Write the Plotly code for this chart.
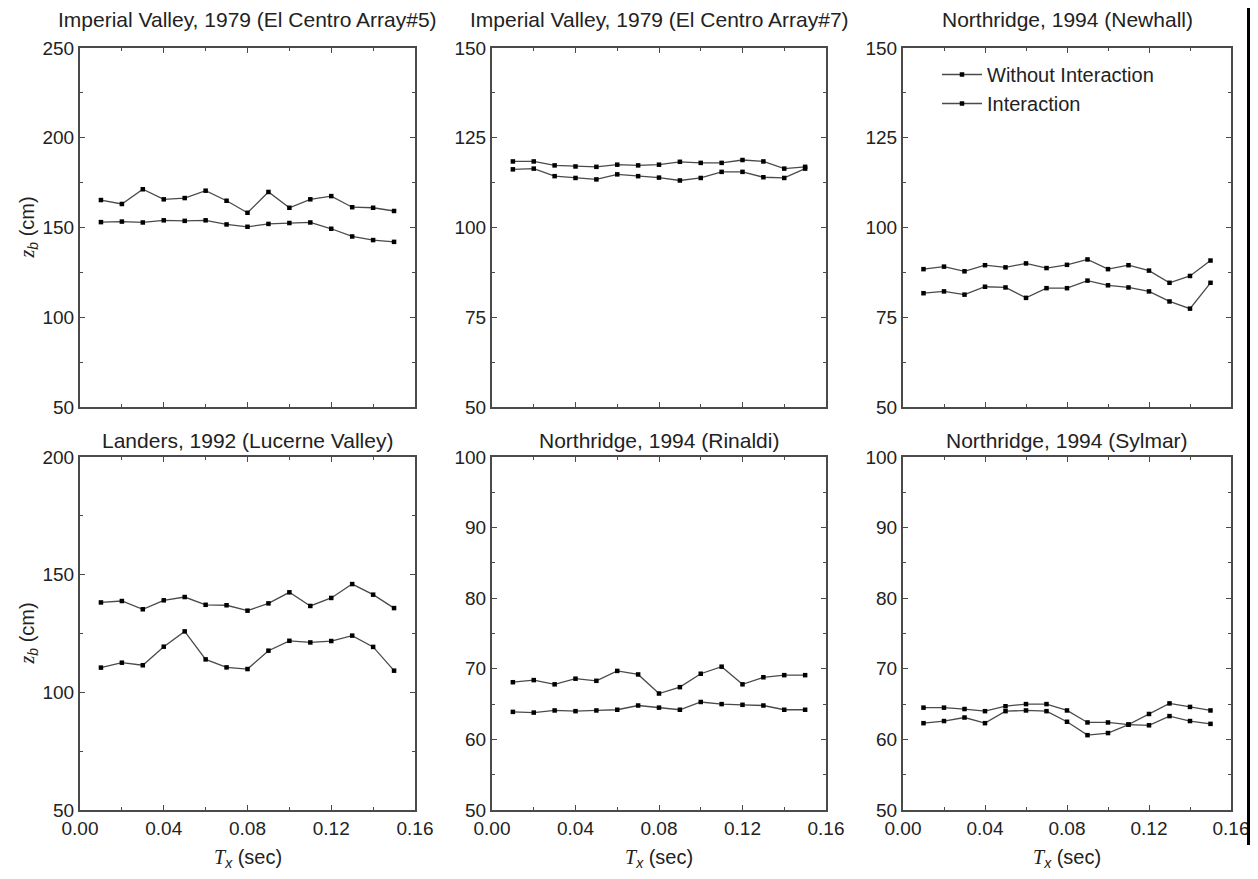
import plotly.graph_objects as go

# ---------------- data ----------------
T = [0.01, 0.02, 0.03, 0.04, 0.05, 0.06, 0.07, 0.08, 0.09, 0.10, 0.11, 0.12, 0.13, 0.14, 0.15]

titles = [
    "Imperial Valley, 1979 (El Centro Array#5)",
    "Imperial Valley, 1979 (El Centro Array#7)",
    "Northridge, 1994 (Newhall)",
    "Landers, 1992 (Lucerne Valley)",
    "Northridge, 1994 (Rinaldi)",
    "Northridge, 1994 (Sylmar)",
]

without_1 = [165.3, 163.1, 171.3, 165.7, 166.4, 170.5, 164.9, 158.2, 169.8, 161.0, 165.7, 167.5, 161.3, 161.0, 159.2]
with_1 = [153.0, 153.3, 152.8, 154.0, 153.7, 154.0, 151.7, 150.4, 152.0, 152.5, 152.8, 149.3, 145.0, 143.0, 142.0]

without_2 = [118.4, 118.4, 117.3, 117.0, 116.9, 117.5, 117.3, 117.5, 118.3, 118.0, 118.0, 118.8, 118.4, 116.4, 116.9]
with_2 = [116.2, 116.4, 114.3, 113.8, 113.4, 114.8, 114.3, 113.9, 113.1, 113.8, 115.5, 115.5, 114.0, 113.8, 116.4]

without_3 = [88.4, 89.1, 87.8, 89.5, 88.9, 90.0, 88.7, 89.6, 91.1, 88.4, 89.5, 88.0, 84.6, 86.5, 90.8]
with_3 = [81.7, 82.2, 81.3, 83.5, 83.3, 80.4, 83.1, 83.1, 85.2, 83.9, 83.3, 82.2, 79.4, 77.4, 84.6]

without_4 = [138.2, 138.8, 135.3, 139.1, 140.5, 137.2, 137.0, 134.7, 137.8, 142.5, 136.7, 140.1, 146.0, 141.5, 135.8]
with_4 = [110.5, 112.6, 111.5, 119.4, 125.9, 114.0, 110.6, 109.9, 117.7, 121.9, 121.2, 121.8, 124.1, 119.3, 109.2]

without_5 = [68.1, 68.4, 67.8, 68.6, 68.3, 69.7, 69.2, 66.5, 67.4, 69.3, 70.3, 67.8, 68.8, 69.1, 69.1]
with_5 = [63.9, 63.8, 64.1, 64.0, 64.1, 64.2, 64.8, 64.5, 64.2, 65.3, 65.0, 64.9, 64.8, 64.2, 64.2]

without_6 = [64.5, 64.5, 64.3, 64.0, 64.7, 65.0, 65.0, 64.1, 62.4, 62.4, 62.1, 63.6, 65.1, 64.6, 64.1]
with_6 = [62.3, 62.6, 63.1, 62.3, 64.0, 64.1, 64.0, 62.5, 60.6, 60.9, 62.1, 62.0, 63.3, 62.6, 62.2]

without_all = [without_1, without_2, without_3, without_4, without_5, without_6]
with_all = [with_1, with_2, with_3, with_4, with_5, with_6]

y_ranges = [[50, 250], [50, 150], [50, 150], [50, 200], [50, 100], [50, 100]]
y_dticks = [50, 25, 25, 50, 10, 10]

x_ticks = [0.00, 0.04, 0.08, 0.12, 0.16]
x_tick_labels = ["0.00", "0.04", "0.08", "0.12", "0.16"]

# ---------------- layout geometry ----------------
# the page body has an 8px margin; size the figure so it fits the window
OFF = 8
W, H = 1258 - 2 * OFF, 879 - 2 * OFF


def px(x):
    return (x - OFF) / W


def py(y):
    return 1 - (y - OFF) / H


x_doms = [[px(80), px(415)], [px(492), px(826)], [px(903), px(1231)]]
y_doms = [[py(407), py(48)], [py(810), py(457)]]
title_y = [20, 441]

FONT = "Liberation Sans, Arial, sans-serif"
LINE_C = "#4a4a4a"
AX_C = "#4a4a4a"
TXT_C = "#222"

fig = go.Figure()
layout = dict(
    width=W, height=H,
    margin=dict(l=0, r=0, t=0, b=0, autoexpand=False),
    paper_bgcolor="white", plot_bgcolor="white",
    font=dict(family=FONT, size=19, color=TXT_C),
    showlegend=True,
    legend=dict(x=px(937), y=py(55), xanchor="left", yanchor="top",
                bgcolor="rgba(0,0,0,0)", font=dict(size=20, family=FONT, color=TXT_C),
                tracegroupgap=0, itemwidth=40),
    shapes=[dict(type="line", xref="paper", yref="paper",
                 x0=px(1248.5), x1=px(1248.5), y0=py(OFF), y1=py(845),
                 line=dict(color="black", width=3))],
)

annotations = []
for i in range(6):
    r, c = divmod(i, 3)
    ax = "" if i == 0 else str(i + 1)
    xa = "x" + ax
    ya = "y" + ax
    show_leg = (i == 2)
    for name, vals in (("Without Interaction", without_all[i]), ("Interaction", with_all[i])):
        fig.add_trace(go.Scatter(
            x=T, y=vals, mode="lines+markers", name=name,
            xaxis=xa, yaxis=ya, showlegend=show_leg,
            line=dict(color=LINE_C, width=1.3),
            marker=dict(color="black", size=4.5, symbol="square"),
        ))
    layout["xaxis" + ax] = dict(
        domain=x_doms[c], anchor=ya, range=[0, 0.16], automargin=False,
        tickvals=x_ticks, ticktext=x_tick_labels if r == 1 else [""] * 5,
        ticklabeloverflow="allow",
        ticks="inside", ticklen=5, tickcolor=AX_C, tickwidth=1,
        minor=dict(dtick=0.02, ticks="inside", ticklen=3, tickcolor=AX_C),
        showline=True, linecolor=AX_C, linewidth=2, mirror="ticks",
        showgrid=False, zeroline=False,
        tickfont=dict(size=19, family=FONT, color=TXT_C),
    )
    layout["yaxis" + ax] = dict(
        domain=y_doms[r], anchor=xa, range=y_ranges[i], dtick=y_dticks[i], automargin=False,
        ticklabeloverflow="allow",
        ticks="inside", ticklen=5, tickcolor=AX_C, tickwidth=1,
        minor=dict(dtick=y_dticks[i] / 2, ticks="inside", ticklen=3, tickcolor=AX_C),
        showline=True, linecolor=AX_C, linewidth=2, mirror="ticks",
        showgrid=False, zeroline=False,
        tickfont=dict(size=19, family=FONT, color=TXT_C),
    )
    xc = (x_doms[c][0] + x_doms[c][1]) / 2
    annotations.append(dict(
        text=titles[i], x=xc, y=py(title_y[r]), xref="paper", yref="paper",
        xanchor="center", yanchor="middle", showarrow=False,
        font=dict(size=21, family=FONT, color=TXT_C),
    ))
    if r == 1:
        annotations.append(dict(
            text='<span style="font-family:Liberation Serif"><i>T</i></span><sub><i>x</i></sub> (sec)',
            x=xc, y=py(858), xref="paper", yref="paper",
            xanchor="center", yanchor="middle", showarrow=False,
            font=dict(size=20, family=FONT, color=TXT_C),
        ))
    if c == 0:
        annotations.append(dict(
            text='<span style="font-family:Liberation Serif"><i>z</i></span><sub><i>b</i></sub> (cm)',
            x=px(28), y=(y_doms[r][0] + y_doms[r][1]) / 2, xref="paper", yref="paper",
            xanchor="center", yanchor="middle", showarrow=False, textangle=-90,
            font=dict(size=20, family=FONT, color=TXT_C),
        ))

layout["annotations"] = annotations
fig.update_layout(**layout)
fig.write_html("out.html")
